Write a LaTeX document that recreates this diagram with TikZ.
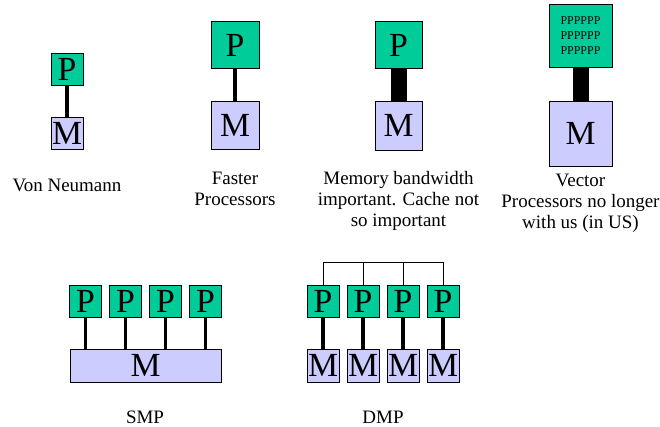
\documentclass[tikz,border=0pt]{standalone}
\usepackage{fontspec}
\setmainfont{Liberation Serif}
\usepackage{xcolor}
\definecolor{cpugreen}{RGB}{0,204,153}
\definecolor{memlilac}{RGB}{204,204,255}
\usetikzlibrary{shadows}

\begin{document}
\begin{tikzpicture}[
  pbox/.style={draw=black, fill=cpugreen, line width=0.7pt, inner sep=0pt,
    font=\fontsize{24}{24}\selectfont,
    drop shadow={shadow xshift=0.7pt, shadow yshift=-0.7pt, fill=gray!70, opacity=1}},
  mbox/.style={pbox, fill=memlilac},
  link/.style={line width=2.2pt},
  fatlink/.style={line width=0.4cm},
  caption/.style={align=center, font=\fontsize{13.5}{15}\selectfont}
]
  \useasboundingbox (0,0) rectangle (16.5,10.675);

  % --- Row 1 ---
  % Von Neumann
  \node[pbox, minimum size=0.8cm] (vnP) at (1.675,8.95) {P};
  \node[mbox, minimum size=0.8cm] (vnM) at (1.675,7.35) {M};
  \draw[link] (vnP) -- (vnM);
  \node[caption] (vnL) at (1.675,6.05) {Von Neumann};

  % Faster processors
  \node[pbox, minimum width=1.2cm, minimum height=1.175cm] (fpP) at (5.875,9.55) {P};
  \node[mbox, minimum size=1.2cm] (fpM) at (5.875,7.55) {M};
  \draw[link] (fpP) -- (fpM);
  \node[caption] (fpL) at (5.875,5.95) {Faster\\Processors};

  % Memory bandwidth
  \node[pbox, minimum width=1.175cm, minimum height=1.175cm] (mbP) at (9.9625,9.55) {P};
  \node[mbox, minimum width=1.175cm, minimum height=1.225cm] (mbM) at (9.9625,7.5375) {M};
  \draw[fatlink] (mbP) -- (mbM);
  \node[caption] (mbL) at (9.9625,5.65) {Memory bandwidth\\important. Cache not\\so important};

  % Vector processors
  \node[pbox, minimum size=1.575cm, align=center, font=\fontsize{8.5}{10.4}\selectfont]
    (vpP) at (14.5125,9.7875) {PPPPPP\\PPPPPP\\PPPPPP};
  \node[mbox, minimum width=1.575cm, minimum height=1.625cm] (vpM) at (14.5125,7.3375) {M};
  \draw[fatlink] (vpP) -- (vpM);
  \node[caption] (vpL) at (14.5125,5.5875) {Vector\\Processors no longer\\with us (in US)};

  % --- Row 2 ---
  % SMP
  \node[mbox, minimum width=3.775cm, minimum height=0.825cm] (smpM) at (3.6375,1.5375) {M};
  \foreach \i in {1,...,4} {
    \node[pbox, minimum size=0.8cm] (smpP\i) at (1.1375+\i,3.15) {P};
    \draw[link] (smpP\i.south) -- (smpP\i.south |- smpM.north);
  }
  \node[caption] (smpL) at (3.625,0.25) {SMP};

  % DMP
  \coordinate (net) at (9.575,4.125);
  \foreach \i in {1,...,4} {
    \node[pbox, minimum size=0.8cm] (dmpP\i) at (7.075+\i,3.15) {P};
    \node[mbox, minimum width=0.8cm, minimum height=0.825cm] (dmpM\i) at (7.075+\i,1.5375) {M};
    \draw[link] (dmpP\i) -- (dmpM\i);
    \draw[line width=0.7pt] (dmpP\i.north) -- (dmpP\i.north |- net);
  }
  \draw[line width=0.7pt] (dmpP1.north |- net) -- (dmpP4.north |- net);
  \node[caption] (dmpL) at (9.575,0.25) {DMP};
\end{tikzpicture}
\end{document}
